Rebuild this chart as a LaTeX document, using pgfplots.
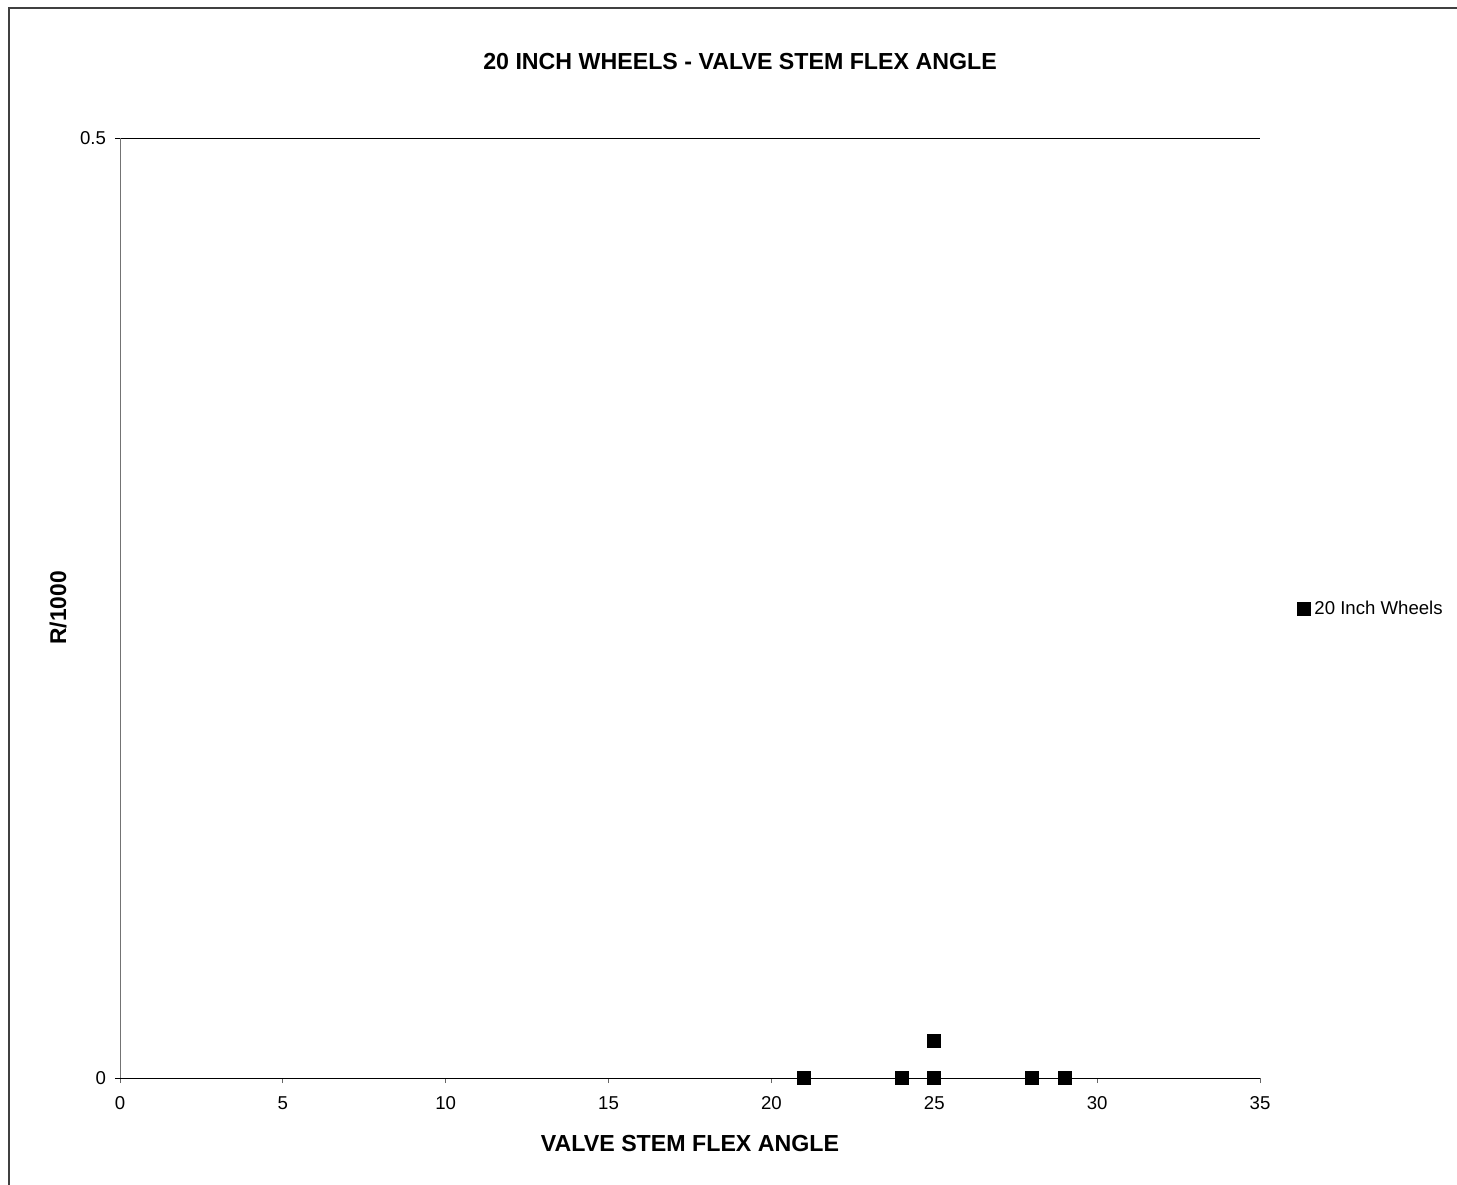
\documentclass[border=0pt]{standalone}
\usepackage{pgfplots}
\pgfplotsset{compat=1.18}
\usepackage{fontspec}
\setmainfont{Liberation Sans}
\begin{document}
\begin{tikzpicture}
\useasboundingbox (0,0) rectangle (728.5pt,592pt);
\draw[line width=1pt, black!75] (4.5pt,-2pt) -- (4.5pt,588pt) -- (731pt,588pt);
\begin{axis}[
  at={(60pt,53pt)}, anchor=origin,
  scale only axis, width=570pt, height=470pt,
  xmin=0, xmax=35, ymin=0, ymax=0.5,
  xtick={0,5,...,35}, ytick={0,0.5},
  axis x line*=bottom, axis y line*=left,
  x axis line style={-, black, line width=0.5pt},
  y axis line style={-, black!55, line width=0.5pt},
  tick align=outside, major tick length=2.5pt,
  xtick style={black!60, line width=0.5pt},
  ytick style={black, line width=0.5pt},
  ymajorgrids, grid style={black, line width=0.5pt},
  /pgf/number format/assume math mode=true,
  ticklabel style={font=\fontsize{9.3}{11}\selectfont},
  xticklabel style={anchor=north, text height=7pt, text depth=0pt, yshift=-2.5pt},
  yticklabel style={xshift=-1pt},
  clip=false,
  title={\bfseries 20 INCH WHEELS - VALVE STEM FLEX ANGLE},
  title style={at={(0.5439,1.069)}, anchor=center, yshift=0pt, font=\fontsize{11.6}{13}\selectfont},
  xlabel={\bfseries VALVE STEM FLEX ANGLE},
  xlabel style={at={(0.5,-0.0702)}, anchor=center, font=\fontsize{11.6}{13}\selectfont},
  ylabel={\bfseries R/1000},
  ylabel style={at={(-0.0544,0.5)}, anchor=center, rotate=0, font=\fontsize{11.4}{13}\selectfont},
  legend style={at={(1.0325,0.499)}, anchor=west, draw=none, fill=none,
    font=\fontsize{9.3}{11}\selectfont, inner sep=0pt,
    legend cell align=left},
  legend image code/.code={\pgfuseplotmark{square*}},
]
\addplot[only marks, mark=square*, mark size=3.25pt, black] coordinates {
(21,0) (24,0) (25,0) (25,0.02) (28,0) (29,0)
};
\addlegendentry{20 Inch Wheels}
\end{axis}
\end{tikzpicture}
\end{document}
